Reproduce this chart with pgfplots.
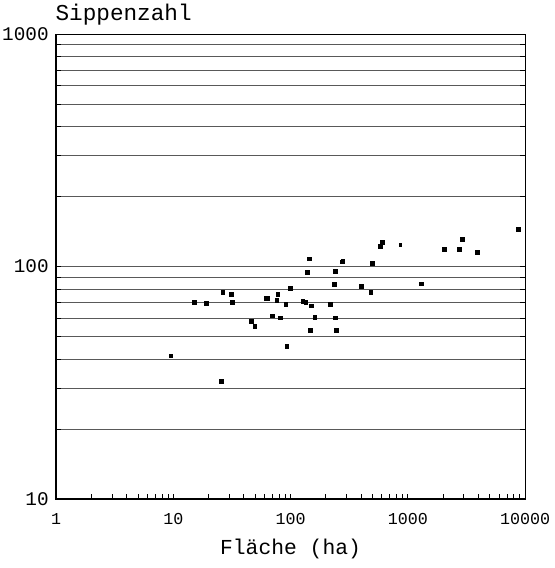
\documentclass[border=0pt]{standalone}
\usepackage{fontspec}
\setmainfont{Liberation Mono}
\usepackage{pgfplots}
\pgfplotsset{compat=1.18}
\begin{document}
\begin{tikzpicture}
\begin{axis}[
  name=ax,
  scale only axis,
  width=351.75pt, height=348.5pt,
  xmode=log, ymode=log,
  xmin=1, xmax=10000, ymin=10, ymax=1000,
  xtick={1,10,100,1000,10000},
  xticklabels={1,10,100,1000,10000},
  ytick={10,100,1000},
  yticklabels={10,100,1000},
  xtick pos=bottom,
  tick align=inside,
  major tick length=3.5pt, minor tick length=3.5pt,
  ymajorgrids, yminorgrids,
  major grid style={black!65, line width=0.6pt},
  minor grid style={black!65, line width=0.6pt},
  axis line style={black, line width=0.8pt},
  every tick/.style={black, line width=0.6pt},
  xticklabel style={font=\fontsize{12.5}{12.5}\selectfont, anchor=base, yshift=-19.5pt},
  yticklabel style={font=\fontsize{14.5}{14.5}\selectfont, anchor=east, xshift=-2pt},
]
\addplot[only marks, mark=square*, mark size=1.4pt, black] coordinates {
(9.5,41.3) (15.1,70.5) (19.1,69.6) (25.5,32.2) (26.4,77.3) (31.1,76.3)
(31.7,70.5) (46.3,58.4) (49.5,55.2) (61.4,73.3) (63.9,73.3) (69.5,61.4)
(76.3,71.4) (77.8,75.8) (81.9,60.3) (91.0,68.9) (92.8,45.4) (99.6,80.7)
(127,70.7) (134.8,70.0) (138.2,94.9) (143.8,108.2) (147.5,53.4) (150.4,67.8)
(160.9,60.6) (217.3,69.1) (235,84.0) (241,95.5) (239.6,60.3) (244.3,53.4)
(273.3,104.8) (278.7,105.8) (399,82.4) (483,77.6) (498.6,103.4) (583,122.4)
(606.7,126.9) (1297,84.3) (2050,118.4) (2753,118.8) (2902,130.7) (3896,115.3)
(8770,144.9)
};
\addplot[only marks, mark=square*, mark size=0.9pt, black] coordinates {
(864,124.4)
};
\end{axis}
\node[anchor=base west, inner sep=0pt, font=\fontsize{17}{17}\selectfont] at ([shift={(-0.5pt,10pt)}]ax.north west) {Sippenzahl};
\node[anchor=base, font=\fontsize{16}{16}\selectfont] at ([yshift=-42pt]ax.south) {Fläche (ha)};
\pgfresetboundingbox
\path ([shift={(-42pt,-51.75pt)}]ax.south west) rectangle ([shift={(21.75pt,25.7pt)}]ax.north east);
\end{tikzpicture}
\end{document}
